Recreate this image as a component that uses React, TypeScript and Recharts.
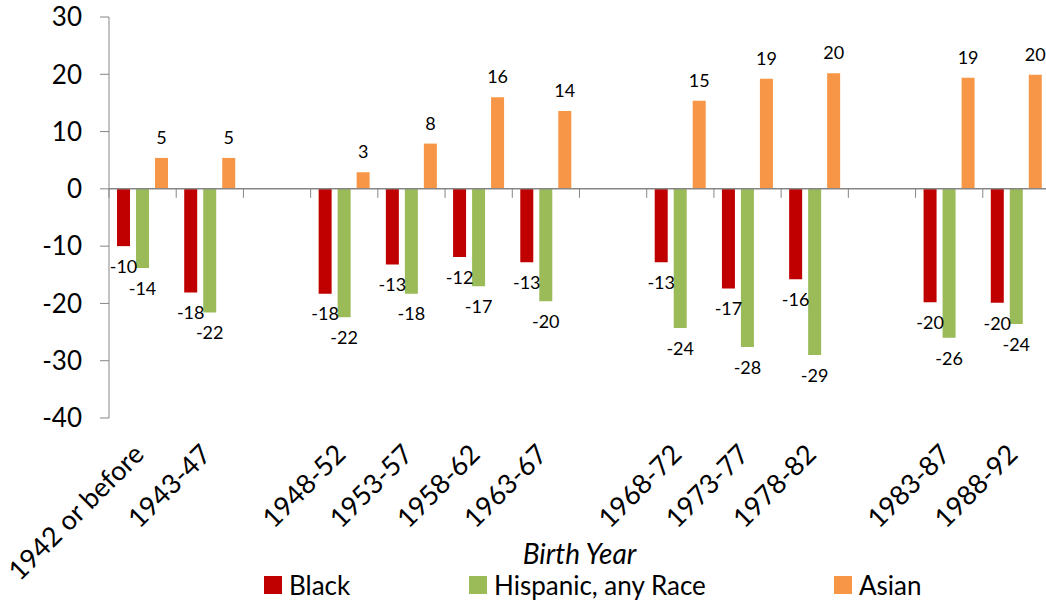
import { BarChart, Bar, XAxis, YAxis, ReferenceLine, LabelList, Legend } from 'recharts';

// gap categories are blank (unique whitespace so the band scale keeps them)
const categories = ['1942 or before', '1943-47', ' ', '1948-52', '1953-57', '1958-62', '1963-67', '  ', '1968-72', '1973-77', '1978-82', '   ', '1983-87', '1988-92'];
const black = [-10.0, -18.1, null, -18.3, -13.2, -11.9, -12.8, null, -12.8, -17.4, -15.8, null, -19.8, -19.9];
const hispanic = [-13.8, -21.6, null, -22.4, -18.3, -17.0, -19.6, null, -24.3, -27.6, -29.0, null, -26.0, -23.6];
const asian = [5.4, 5.4, null, 2.9, 7.9, 16.0, 13.6, null, 15.4, 19.2, 20.2, null, 19.4, 19.9];
const yTicks = [-40, -30, -20, -10, 0, 10, 20, 30];

const data = categories.map((c, i) => ({ year: c, black: black[i], hispanic: hispanic[i], asian: asian[i] }));

const FONT = 'Lato, "Open Sans", sans-serif';
const AXIS = '#868686';
const RED = '#C00000';
const GREEN = '#9BBB59';
const ORANGE = '#F79646';

const W = 1060;
const H = 602;
const M = { top: 17, right: 10, bottom: 0, left: 0 };
const Y_W = 109;
const PLOT_H = 401;
const X_H = H - M.top - M.bottom - PLOT_H;
const STEP = (W - M.left - M.right - Y_W) / categories.length;
const ZERO_Y = M.top + PLOT_H * 30 / 70;

function XTick(props: any) {
  const { x, payload } = props;
  const label = String(payload.value).trim();
  const ax = x + 3;
  const ay = M.top + PLOT_H + 38;
  return (
    <g>
      <line x1={x - STEP / 2} x2={x - STEP / 2} y1={ZERO_Y} y2={ZERO_Y + 9} stroke={AXIS} />
      {label && (
        <text x={ax} y={ay} textAnchor="end" transform={`rotate(-45 ${ax} ${ay})`} fontSize={27} fontFamily={FONT} fill="#000">
          {label}
        </text>
      )}
    </g>
  );
}

const legendItems = [
  { label: 'Black', color: RED, width: 205 },
  { label: 'Hispanic, any Race', color: GREEN, width: 365 },
  { label: 'Asian', color: ORANGE, width: 200 },
];

function LegendBox() {
  return (
    <div style={{ display: 'flex', paddingLeft: 264, fontFamily: FONT, fontSize: 26, lineHeight: '26px', height: 26, color: '#000' }}>
      {legendItems.map(it => (
        <div key={it.label} style={{ width: it.width, display: 'flex', alignItems: 'center' }}>
          <span style={{ width: 18, height: 18, background: it.color, display: 'inline-block', marginRight: 7 }} />
          <span>{it.label}</span>
        </div>
      ))}
    </div>
  );
}

const fmt = (v: any) => (v == null ? '' : Math.round(Number(v)));

export default function App() {
  return (
    <div style={{ position: 'absolute', left: 0, top: 0, width: 1046, height: 602, overflow: 'hidden', background: '#fff' }}>
      <BarChart width={W} height={H} data={data} margin={M} barSize={13} barGap={6} style={{ fontFamily: FONT }}>
        <YAxis
          width={Y_W}
          domain={[-40, 30]}
          ticks={yTicks}
          interval={0}
          stroke={AXIS}
          tickSize={9}
          tickMargin={18}
          tick={{ fontSize: 26, fill: '#000', fontFamily: FONT }}
        />
        <XAxis
          dataKey="year"
          height={X_H}
          interval={0}
          axisLine={false}
          tickLine={false}
          tick={<XTick />}
          label={{ value: 'Birth Year', position: 'insideBottom', offset: 38, fontSize: 28, fontStyle: 'italic', fill: '#000', fontFamily: FONT }}
        />
        <ReferenceLine y={0} stroke={AXIS} strokeWidth={1.5} />
        <Bar dataKey="black" name="Black" fill={RED} isAnimationActive={false}>
          <LabelList dataKey="black" position="top" offset={14} formatter={fmt} fontSize={18} fill="#000" fontFamily={FONT} />
        </Bar>
        <Bar dataKey="hispanic" name="Hispanic, any Race" fill={GREEN} isAnimationActive={false}>
          <LabelList dataKey="hispanic" position="top" offset={14} formatter={fmt} fontSize={18} fill="#000" fontFamily={FONT} />
        </Bar>
        <Bar dataKey="asian" name="Asian" fill={ORANGE} isAnimationActive={false}>
          <LabelList dataKey="asian" position="top" offset={14} formatter={fmt} fontSize={18} fill="#000" fontFamily={FONT} />
        </Bar>
        <Legend verticalAlign="middle" align="center" content={<LegendBox />} wrapperStyle={{ top: 572, left: 0, width: 1046 }} />
      </BarChart>
    </div>
  );
}
